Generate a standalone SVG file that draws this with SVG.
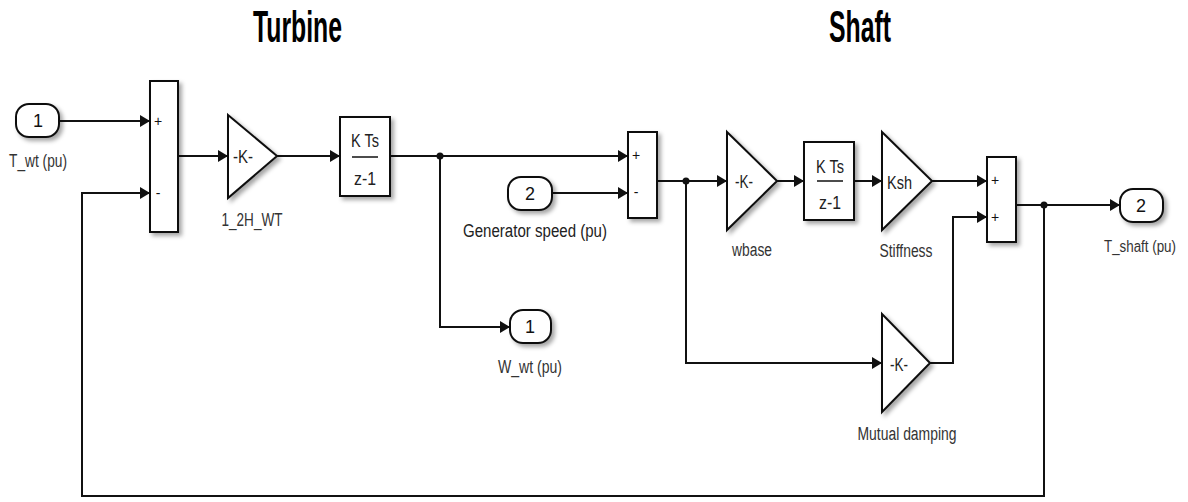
<svg xmlns="http://www.w3.org/2000/svg" width="1188" height="502" viewBox="0 0 1188 502">
<style>
.blk{fill:#fff;stroke:#111;stroke-width:2;filter:url(#sh)}
.w{fill:none;stroke:#111;stroke-width:2}
.wa{fill:none;stroke:#111;stroke-width:2;marker-end:url(#ah)}
.t{font-family:"Liberation Sans",Arial,sans-serif;font-size:18px;fill:#222}
.lbl{font-family:"Liberation Sans",Arial,sans-serif;font-size:18px;fill:#333;text-anchor:middle}
.in{font-family:"Liberation Sans",Arial,sans-serif;font-size:18px;fill:#111;text-anchor:middle}
.sg{font-family:"Liberation Sans",Arial,sans-serif;font-size:14px;fill:#111;text-anchor:middle}
.ttl{font-family:"Liberation Sans",Arial,sans-serif;font-size:44px;font-weight:bold;fill:#000}
.dot{fill:#111}
</style>
<defs>
<filter id="sh" x="-20%" y="-20%" width="150%" height="150%">
<feDropShadow dx="3" dy="3" stdDeviation="2" flood-color="#000" flood-opacity="0.35"/>
</filter>
<marker id="ah" markerUnits="userSpaceOnUse" markerWidth="11" markerHeight="12" refX="10" refY="6" orient="auto">
<path d="M0,0 L10,6 L0,12 z" fill="#111"/>
</marker>
</defs>

<text class="ttl" x="253" y="42" textLength="89" lengthAdjust="spacingAndGlyphs">Turbine</text>
<text class="ttl" x="829" y="42" textLength="62" lengthAdjust="spacingAndGlyphs">Shaft</text>

<g id="connectors">
<path class="wa" d="M59,121 H150"/>
<path class="wa" d="M178,156 H228"/>
<path class="wa" d="M277,156 H340"/>
<path class="wa" d="M390,156 H628"/>
<path class="wa" d="M440,156 V327 H510"/>
<path class="wa" d="M552,193 H628"/>
<path class="wa" d="M657,181 H727"/>
<path class="wa" d="M777,181 H804"/>
<path class="wa" d="M854,181 H882"/>
<path class="wa" d="M932,181 H987"/>
<path class="wa" d="M686,181 V363 H882"/>
<path class="wa" d="M930,363 H953 V217 H987"/>
<path class="wa" d="M1016,205 H1120"/>
<path class="wa" d="M1044,205 V496 H82 V193 H150"/>
<circle class="dot" cx="440" cy="156" r="3.5"/>
<circle class="dot" cx="686" cy="181" r="3.5"/>
<circle class="dot" cx="1044" cy="205" r="3.5"/>
</g>

<g id="in1">
<rect class="blk" x="16" y="104" width="43" height="33" rx="13"/>
<text class="in" x="38" y="127">1</text>
<text class="lbl" x="38" y="167" textLength="58" lengthAdjust="spacingAndGlyphs">T_wt (pu)</text>
</g>

<g id="sum1">
<rect class="blk" x="150" y="81" width="28" height="151"/>
<text class="sg" x="158" y="126">+</text>
<text class="sg" x="158" y="198">-</text>
</g>

<g id="gain1">
<path class="blk" d="M228,115 L277,156 L228,198 z"/>
<text class="t" x="233" y="163" textLength="20" lengthAdjust="spacingAndGlyphs">-K-</text>
<text class="lbl" x="252" y="226" textLength="61" lengthAdjust="spacingAndGlyphs">1_2H_WT</text>
</g>

<g id="int1">
<rect class="blk" x="340" y="117" width="50" height="79"/>
<text class="t" x="351" y="147" textLength="28" lengthAdjust="spacingAndGlyphs">K Ts</text>
<path class="w" d="M352,157 H378" style="stroke-width:1.5"/>
<text class="t" x="354" y="185" textLength="22" lengthAdjust="spacingAndGlyphs">z-1</text>
</g>

<g id="in2">
<rect class="blk" x="508" y="177" width="44" height="33" rx="13"/>
<text class="in" x="530" y="200">2</text>
<text class="t" x="463" y="237" textLength="144" lengthAdjust="spacingAndGlyphs">Generator speed (pu)</text>
</g>

<g id="out1">
<rect class="blk" x="510" y="310" width="41" height="33" rx="13"/>
<text class="in" x="530" y="333">1</text>
<text class="lbl" x="530" y="373" textLength="64" lengthAdjust="spacingAndGlyphs">W_wt (pu)</text>
</g>

<g id="sum2">
<rect class="blk" x="628" y="132" width="29" height="86"/>
<text class="sg" x="636" y="160">+</text>
<text class="sg" x="636" y="197">-</text>
</g>

<g id="wbase">
<path class="blk" d="M727,132 L777,181 L727,230 z"/>
<text class="t" x="735" y="188" textLength="18" lengthAdjust="spacingAndGlyphs">-K-</text>
<text class="lbl" x="752" y="256" textLength="40" lengthAdjust="spacingAndGlyphs">wbase</text>
</g>

<g id="int2">
<rect class="blk" x="804" y="142" width="50" height="78"/>
<text class="t" x="816" y="173" textLength="28" lengthAdjust="spacingAndGlyphs">K Ts</text>
<path class="w" d="M817,181 H843" style="stroke-width:1.5"/>
<text class="t" x="819" y="209" textLength="22" lengthAdjust="spacingAndGlyphs">z-1</text>
</g>

<g id="stiffness">
<path class="blk" d="M882,132 L932,181 L882,230 z"/>
<text class="t" x="887" y="189" textLength="25" lengthAdjust="spacingAndGlyphs">Ksh</text>
<text class="lbl" x="906" y="257" textLength="53" lengthAdjust="spacingAndGlyphs">Stiffness</text>
</g>

<g id="damping">
<path class="blk" d="M882,314 L930,363 L882,412 z"/>
<text class="t" x="890" y="371" textLength="18" lengthAdjust="spacingAndGlyphs">-K-</text>
<text class="lbl" x="907" y="440" textLength="99" lengthAdjust="spacingAndGlyphs">Mutual damping</text>
</g>

<g id="sum3">
<rect class="blk" x="987" y="157" width="29" height="85"/>
<text class="sg" x="995" y="185">+</text>
<text class="sg" x="995" y="222">+</text>
</g>

<g id="out2">
<rect class="blk" x="1120" y="189" width="43" height="33" rx="13"/>
<text class="in" x="1141" y="212">2</text>
<text class="lbl" x="1140" y="252" style="font-size:16px" textLength="72" lengthAdjust="spacingAndGlyphs">T_shaft (pu)</text>
</g>
</svg>
